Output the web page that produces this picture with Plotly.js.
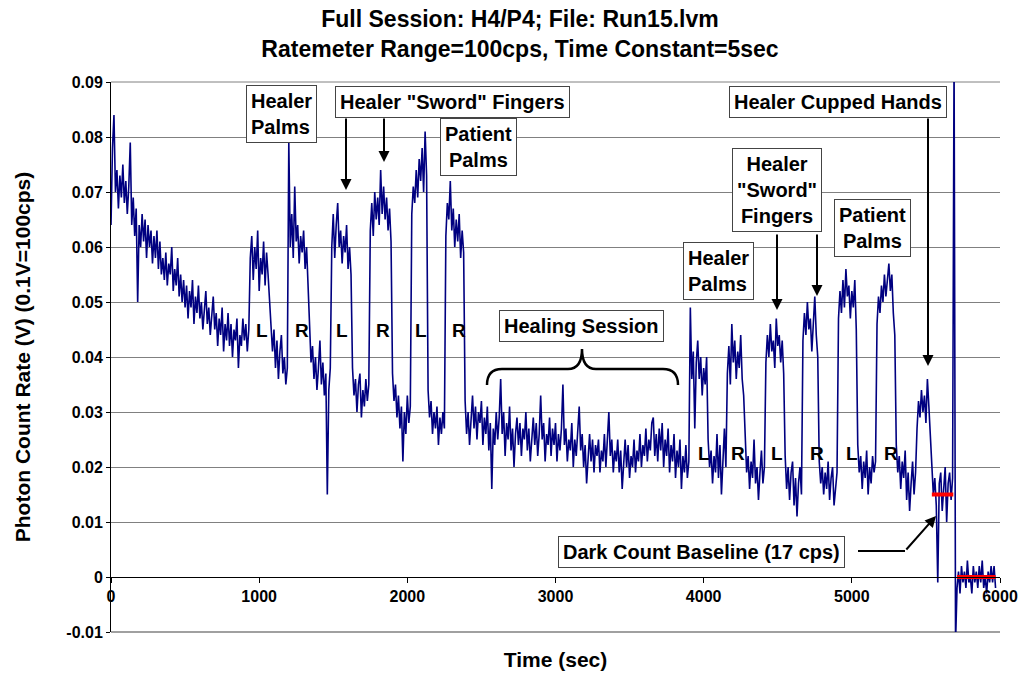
<!DOCTYPE html>
<html>
<head>
<meta charset="utf-8">
<script src="https://cdn.plot.ly/plotly-3.0.1.min.js"></script>
<style>
  html, body { margin: 0; padding: 0; background: #fff; }
  #chart { width: 1023px; height: 677px; }
</style>
</head>
<body>
<div id="chart"></div>
<script>
// ---------------- DATA (volts, one reading every 10 s) ----------------
const startTime = 0;
const sampleInterval = 10;

const baselineDecay = [
  0.064, 0.078, 0.084, 0.070, 0.074, 0.067, 0.073, 0.069, 0.075, 0.068,
  0.072, 0.066, 0.071, 0.079, 0.064, 0.069, 0.062, 0.067, 0.050, 0.064,
  0.060, 0.066, 0.061, 0.065, 0.058, 0.064, 0.060, 0.063, 0.057, 0.062,
  0.058, 0.063, 0.056, 0.061, 0.055, 0.058, 0.054, 0.059, 0.053,
  0.057, 0.055, 0.060, 0.052, 0.056, 0.053, 0.058, 0.051, 0.055, 0.050,
  0.054, 0.049, 0.053, 0.047, 0.052, 0.049, 0.054, 0.046, 0.051, 0.048,
  0.053, 0.047, 0.050, 0.045, 0.049, 0.052, 0.046, 0.049, 0.044, 0.048,
  0.051, 0.045, 0.048, 0.042, 0.047, 0.044, 0.049, 0.041, 0.046, 0.043,
  0.048, 0.042, 0.046, 0.040, 0.045, 0.043, 0.047, 0.038, 0.044, 0.042,
  0.047, 0.043, 0.046, 0.041, 0.045
];

const sessionOne = [
  // Healer palms L
  0.058, 0.062, 0.054, 0.060, 0.056, 0.063, 0.052, 0.058, 0.055, 0.061, 0.053, 0.059, 0.055, 0.050,
  0.047, 0.041, 0.045, 0.038, 0.043, 0.036, 0.041, 0.044, 0.037, 0.040, 0.035, 0.038,
  // Healer palms R
  0.079, 0.060, 0.066, 0.058, 0.071, 0.061, 0.064, 0.057, 0.062, 0.059, 0.063, 0.056, 0.060, 0.054,
  0.045, 0.039, 0.042, 0.036, 0.040, 0.034, 0.038, 0.043, 0.035, 0.039, 0.033, 0.037, 0.015, 0.034, 0.038,
  // Sword fingers L
  0.060, 0.066, 0.058, 0.064, 0.068, 0.060, 0.063, 0.057, 0.062, 0.059, 0.064, 0.056, 0.060, 0.055,
  0.038, 0.033, 0.036, 0.030, 0.035, 0.037, 0.029, 0.034, 0.031, 0.036, 0.032, 0.035,
  // Sword fingers R
  0.063, 0.068, 0.062, 0.070, 0.065, 0.069, 0.064, 0.074, 0.066, 0.071, 0.065, 0.069, 0.063, 0.067, 0.061,
  0.037, 0.032, 0.035, 0.029, 0.033, 0.027, 0.031, 0.021, 0.030, 0.026, 0.033, 0.028, 0.031,
  // Patient palms L
  0.066, 0.071, 0.068, 0.074, 0.069, 0.076, 0.072, 0.078, 0.070, 0.081, 0.073,
  0.034, 0.029, 0.032, 0.026, 0.030, 0.027, 0.031, 0.024, 0.029, 0.026, 0.030, 0.027,
  // Patient palms R
  0.062, 0.068, 0.065, 0.072, 0.063, 0.067, 0.060, 0.065, 0.061, 0.066, 0.058, 0.063, 0.059
];

const healingSession = [
  0.032, 0.026, 0.030, 0.024, 0.029, 0.033, 0.027, 0.031, 0.025, 0.030,
  0.028, 0.032, 0.024, 0.029, 0.026, 0.031, 0.023, 0.028, 0.016, 0.027,
  0.024, 0.030, 0.025, 0.029, 0.036, 0.026, 0.030, 0.022, 0.028, 0.025,
  0.031, 0.023, 0.027, 0.020, 0.026, 0.029, 0.024, 0.028, 0.022, 0.027,
  0.025, 0.030, 0.023, 0.027, 0.021, 0.026, 0.029, 0.024, 0.028, 0.022,
  0.026, 0.033, 0.025, 0.028, 0.021, 0.026, 0.024, 0.029, 0.022, 0.027,
  0.024, 0.028, 0.021, 0.026, 0.023, 0.027, 0.035, 0.024, 0.027, 0.021,
  0.025, 0.023, 0.028, 0.020, 0.025, 0.022, 0.026, 0.031, 0.023, 0.026,
  0.020, 0.024, 0.017, 0.023, 0.026, 0.021, 0.025, 0.019, 0.024,
  0.022, 0.025, 0.019, 0.023, 0.021, 0.026, 0.020, 0.024, 0.030, 0.022,
  0.025, 0.019, 0.023, 0.021, 0.025, 0.019, 0.023, 0.016, 0.022, 0.025,
  0.020, 0.024, 0.018, 0.022, 0.020, 0.025, 0.019, 0.023, 0.021, 0.026,
  0.020, 0.024, 0.022, 0.027, 0.021, 0.025, 0.023, 0.028, 0.029, 0.022,
  0.026, 0.021, 0.027, 0.023, 0.028, 0.020, 0.025, 0.022, 0.027, 0.019,
  0.024, 0.021, 0.026, 0.018, 0.023, 0.020, 0.025, 0.016, 0.022, 0.019,
  0.024, 0.018, 0.021
];

const sessionTwo = [
  // Healer palms L
  0.049, 0.036, 0.041, 0.027, 0.039, 0.043, 0.036, 0.040, 0.033, 0.038, 0.035, 0.040,
  0.025, 0.020, 0.023, 0.017, 0.022, 0.019, 0.026, 0.018, 0.024, 0.015, 0.021, 0.027, 0.020,
  // Healer palms R
  0.037, 0.042, 0.035, 0.046, 0.039, 0.043, 0.036, 0.041, 0.038, 0.044, 0.036, 0.033,
  0.024, 0.019, 0.022, 0.016, 0.021, 0.018, 0.025, 0.017, 0.020, 0.014, 0.019, 0.023, 0.017, 0.020,
  // Sword fingers L
  0.039, 0.044, 0.040, 0.046, 0.041, 0.043, 0.038, 0.047, 0.042, 0.044, 0.039, 0.043, 0.037,
  0.022, 0.016, 0.020, 0.014, 0.019, 0.021, 0.013, 0.018, 0.011, 0.017, 0.020, 0.015,
  // Sword fingers R
  0.043, 0.048, 0.044, 0.050, 0.045, 0.047, 0.041, 0.046, 0.051, 0.044, 0.040,
  0.021, 0.017, 0.020, 0.015, 0.019, 0.016, 0.021, 0.014, 0.018, 0.020, 0.013, 0.017, 0.019,
  // Patient palms L
  0.047, 0.052, 0.048, 0.054, 0.049, 0.056, 0.051, 0.053, 0.047, 0.052, 0.049, 0.054, 0.045,
  0.024, 0.019, 0.022, 0.016, 0.021, 0.018, 0.023, 0.015, 0.020, 0.017, 0.022, 0.019, 0.021,
  // Patient palms R
  0.046, 0.051, 0.048, 0.053, 0.050, 0.055, 0.051, 0.054, 0.057, 0.052, 0.055, 0.048, 0.044,
  0.024, 0.019, 0.022, 0.016, 0.021, 0.018, 0.023, 0.014, 0.019, 0.012, 0.017, 0.021, 0.015, 0.019,
  // Cupped hands
  0.027, 0.032, 0.029, 0.034, 0.030, 0.033, 0.028, 0.036, 0.031, 0.026
];

const darkCountOpen = [
  0.020, 0.015, 0.018, 0.013, -0.001, 0.017, 0.019, 0.012, 0.016, 0.020, 0.010, 0.017, 0.019, 0.014, 0.018,
  0.095, -0.012
];

const closedBaseline = [
  -0.002, 0.001, -0.003, 0.002, -0.001, 0.001, -0.002, 0.003, -0.001, 0.000,
  -0.003, 0.002, -0.001, 0.001, -0.002, 0.002, -0.001, 0.003, -0.002, 0.000,
  -0.003, 0.001, -0.001, 0.002, -0.001, 0.002, -0.002
];

const photonRate = [].concat(baselineDecay, sessionOne, healingSession, sessionTwo, darkCountOpen, closedBaseline);

// red reference levels
const darkLevelTimes = [5540, 5685];
const darkLevelValues = [0.015, 0.015];
const zeroLevelTimes = [5710, 5970];
const zeroLevelValues = [0, 0];

// tick labels
const timeTicks = [0, 1000, 2000, 3000, 4000, 5000, 6000];
const timeTickLabels = ['0', '1000', '2000', '3000', '4000', '5000', '6000'];
const rateTicks = [-0.01, 0, 0.01, 0.02, 0.03, 0.04, 0.05, 0.06, 0.07, 0.08, 0.09];
const rateTickLabels = ['-0.01', '0', '0.01', '0.02', '0.03', '0.04', '0.05', '0.06', '0.07', '0.08', '0.09'];

// ---------------- LAYOUT HELPERS ----------------
const FONT = 'Liberation Sans, Arial, sans-serif';
const ML = 111, MR = 23, MT = 82, MB = 45, W = 1023, H = 677;
const PW = W - ML - MR, PH = H - MT - MB;
const px = v => (v - ML) / PW;
const py = v => (H - MB - v) / PH;

function box(text, cx, cy, align) {
  return {
    xref: 'paper', yref: 'paper', x: px(cx), y: py(cy),
    xanchor: 'center', yanchor: 'middle', showarrow: false,
    text: '<b>' + text + '</b>', align: align || 'center',
    font: { family: FONT, size: 20, color: '#000' },
    bgcolor: '#ffffff', bordercolor: '#444', borderwidth: 1, borderpad: 4
  };
}
function label(text, cx, cy) {
  return {
    xref: 'paper', yref: 'paper', x: px(cx), y: py(cy),
    xanchor: 'center', yanchor: 'middle', showarrow: false,
    text: '<b>' + text + '</b>',
    font: { family: FONT, size: 19, color: '#000' }
  };
}
function arrow(tx, ty, hx, hy) {
  return {
    xref: 'paper', yref: 'paper', x: px(hx), y: py(hy),
    ax: tx - hx, ay: ty - hy, text: '', showarrow: true,
    arrowhead: 2, arrowsize: 1.1, arrowwidth: 2, arrowcolor: '#000',
    standoff: 0, startstandoff: 0
  };
}

const annotations = [
  box('Healer<br>Palms', 281, 114, 'left'),
  box('Healer "Sword" Fingers', 452, 102),
  box('Patient<br>Palms', 478, 147),
  box('Healer Cupped Hands', 838, 102),
  box('Healer<br>"Sword"<br>Fingers', 777, 190),
  box('Patient<br>Palms', 872, 228),
  box('Healer<br>Palms', 718, 271, 'left'),
  box('Healing Session', 581, 326),
  box('Dark Count Baseline (17 cps)', 701, 552),
  label('L', 262, 330), label('R', 302, 330), label('L', 342, 330),
  label('R', 383, 330), label('L', 421, 330), label('R', 459, 330),
  label('L', 704, 453), label('R', 738, 453), label('L', 777, 453),
  label('R', 817, 453), label('L', 852, 453), label('R', 891, 453),
  arrow(346, 117, 346, 190),
  arrow(384, 117, 384, 162),
  arrow(928, 117, 928, 366),
  arrow(777, 233, 777, 310),
  arrow(817, 233, 817, 296),
  arrow(905, 551, 936, 516)
];

const bracePath = [
  'M', px(487), py(385),
  'Q', px(487), py(369), px(502), py(369),
  'L', px(568), py(369),
  'Q', px(582), py(369), px(582), py(349),
  'Q', px(582), py(369), px(596), py(369),
  'L', px(663), py(369),
  'Q', px(678), py(369), px(678), py(385)
].map(v => typeof v === 'number' ? v.toFixed(5) : v).join(' ')
 .replace(/(\d) (-?\d)/g, '$1,$2');

const shapes = [
  { type: 'path', xref: 'paper', yref: 'paper', path: bracePath,
    line: { color: '#000', width: 2.5 } },
  { type: 'line', xref: 'paper', yref: 'paper',
    x0: px(858), y0: py(551), x1: px(905), y1: py(551),
    line: { color: '#000', width: 2 } },
  // plot-area edge gridlines (top 0.09, bottom -0.01)
  { type: 'line', xref: 'paper', yref: 'paper', x0: 0, x1: 1, y0: 1, y1: 1,
    line: { color: '#808080', width: 1 }, layer: 'below' },
  { type: 'line', xref: 'paper', yref: 'paper', x0: 0, x1: 1, y0: 0, y1: 0,
    line: { color: '#808080', width: 1.5 }, layer: 'below' }
];

// ---------------- TRACES ----------------
const traces = [
  {
    type: 'scatter', mode: 'lines', y: photonRate, x0: startTime, dx: sampleInterval,
    line: { color: '#000080', width: 1.6 }, hoverinfo: 'skip', showlegend: false
  },
  {
    type: 'scatter', mode: 'lines', x: darkLevelTimes, y: darkLevelValues,
    line: { color: '#ff0000', width: 4 }, showlegend: false
  },
  {
    type: 'scatter', mode: 'lines', x: zeroLevelTimes, y: zeroLevelValues,
    line: { color: '#ff0000', width: 4 }, showlegend: false
  }
];

const layout = {
  width: W, height: H,
  margin: { l: ML, r: MR, t: MT, b: MB, pad: 0 },
  paper_bgcolor: '#ffffff', plot_bgcolor: '#ffffff',
  showlegend: false,
  font: { family: FONT, color: '#000' },
  title: {
    text: '<b>Full Session: H4/P4; File: Run15.lvm<br>Ratemeter Range=100cps, Time Constant=5sec</b>',
    font: { family: FONT, size: 23, color: '#000' },
    x: 520 / W, xanchor: 'center', xref: 'container',
    y: 1 - 27 / H, yanchor: 'top', yref: 'container'
  },
  xaxis: {
    range: [0, 6000], anchor: 'free', position: 0.1,
    tickvals: timeTicks, ticktext: timeTickLabels,
    showline: true, linecolor: '#000', linewidth: 1,
    ticks: 'outside', ticklen: 5, tickcolor: '#000', tickwidth: 1,
    showgrid: false, zeroline: false,
    tickfont: { family: FONT, size: 16, color: '#000', weight: 'bold' },
    title: { text: '<b>Time (sec)</b>', font: { family: FONT, size: 21, color: '#000' }, standoff: 48 }
  },
  yaxis: {
    range: [-0.01, 0.09],
    tickvals: rateTicks, ticktext: rateTickLabels,
    showline: true, linecolor: '#000', linewidth: 1,
    ticks: 'outside', ticklen: 4, tickcolor: '#000',
    showgrid: true, gridcolor: '#808080', gridwidth: 1, zeroline: false,
    tickfont: { family: FONT, size: 16, color: '#000', weight: 'bold' },
    title: { text: '<b>Photon Count Rate (V) (0.1V=100cps)</b>', font: { family: FONT, size: 21, color: '#000' }, standoff: 29 }
  },
  annotations: annotations,
  shapes: shapes
};

Plotly.newPlot('chart', traces, layout, { staticPlot: true, displayModeBar: false });
</script>
</body>
</html>
